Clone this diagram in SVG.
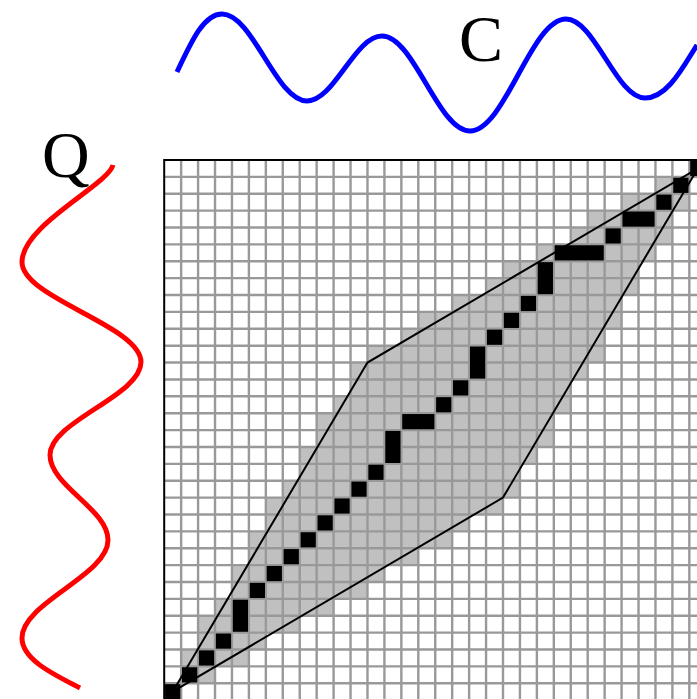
<svg xmlns="http://www.w3.org/2000/svg" width="697" height="699" viewBox="0 0 697 699">
<style>
.lbl{font-family:"Liberation Serif","Times New Roman",serif;font-size:66px;fill:#000}
.wave{fill:none;stroke-width:5;stroke-linecap:butt;stroke-linejoin:round}
.shade{fill:#c0c0c0}
.grid{fill:none;stroke:#999;stroke-width:2.4}
.blk{fill:#000}
.poly{fill:none;stroke:#000;stroke-width:2;stroke-linejoin:miter}
</style>
<rect width="697" height="699" fill="#fff"/>
<g id="seriesC">
<path class="wave" stroke="#0000ff" d="M177,72 C192,40 204,14 222,14 C252.9,14 276.1,101 307,101 C334.3,101 354.7,36 382,36 C414,36 438,131 470,131 C504.9,131 531.1,19 566,19 C594.7,19 616.3,98 645,98 C668,98 684,65 697,45"/>
<text class="lbl" x="459" y="61">C</text>
</g>
<g id="seriesQ">
<path class="wave" stroke="#ff0000" d="M113,165 C108,185 22,225 22,262 C22,298.3 141,325.7 141,362 C141,395.8 50,421.2 50,455 C50,485.9 108,509.1 108,540 C108,575.6 22,602.4 22,638 C22,660 55,675 80,688"/>
<text class="lbl" x="42" y="177">Q</text>
</g>
<g id="matrix" transform="translate(164.2,160) scale(16.94,16.88)">
<g id="band" class="shade">
<rect x="0" y="31" width="1" height="1"/>
<rect x="1" y="30" width="2" height="1"/>
<rect x="1" y="29" width="4" height="1"/>
<rect x="2" y="28" width="4" height="1"/>
<rect x="2" y="27" width="6" height="1"/>
<rect x="3" y="26" width="7" height="1"/>
<rect x="4" y="25" width="8" height="1"/>
<rect x="4" y="24" width="9" height="1"/>
<rect x="5" y="23" width="10" height="1"/>
<rect x="5" y="22" width="12" height="1"/>
<rect x="6" y="21" width="12" height="1"/>
<rect x="6" y="20" width="14" height="1"/>
<rect x="7" y="19" width="14" height="1"/>
<rect x="8" y="18" width="13" height="1"/>
<rect x="8" y="17" width="14" height="1"/>
<rect x="9" y="16" width="14" height="1"/>
<rect x="9" y="15" width="14" height="1"/>
<rect x="10" y="14" width="14" height="1"/>
<rect x="11" y="13" width="13" height="1"/>
<rect x="11" y="12" width="14" height="1"/>
<rect x="12" y="11" width="14" height="1"/>
<rect x="14" y="10" width="12" height="1"/>
<rect x="15" y="9" width="12" height="1"/>
<rect x="17" y="8" width="10" height="1"/>
<rect x="19" y="7" width="9" height="1"/>
<rect x="20" y="6" width="8" height="1"/>
<rect x="22" y="5" width="7" height="1"/>
<rect x="24" y="4" width="6" height="1"/>
<rect x="25" y="3" width="5" height="1"/>
<rect x="27" y="2" width="4" height="1"/>
<rect x="29" y="1" width="2" height="1"/>
<rect x="31" y="0" width="1" height="1"/>
</g>
<path id="gridlines" class="grid" vector-effect="non-scaling-stroke" d="M0,1H32M0,2H32M0,3H32M0,4H32M0,5H32M0,6H32M0,7H32M0,8H32M0,9H32M0,10H32M0,11H32M0,12H32M0,13H32M0,14H32M0,15H32M0,16H32M0,17H32M0,18H32M0,19H32M0,20H32M0,21H32M0,22H32M0,23H32M0,24H32M0,25H32M0,26H32M0,27H32M0,28H32M0,29H32M0,30H32M0,31H32M1,0V32M2,0V32M3,0V32M4,0V32M5,0V32M6,0V32M7,0V32M8,0V32M9,0V32M10,0V32M11,0V32M12,0V32M13,0V32M14,0V32M15,0V32M16,0V32M17,0V32M18,0V32M19,0V32M20,0V32M21,0V32M22,0V32M23,0V32M24,0V32M25,0V32M26,0V32M27,0V32M28,0V32M29,0V32M30,0V32M31,0V32"/>
<path id="border" d="M0,32V0H32" fill="none" stroke="#000" stroke-width="2" vector-effect="non-scaling-stroke"/>
<g id="path" class="blk">
<rect x="0.05" y="31.05" width="0.9" height="0.9"/>
<rect x="1.05" y="30.05" width="0.9" height="0.9"/>
<rect x="2.05" y="29.05" width="0.9" height="0.9"/>
<rect x="3.05" y="28.05" width="0.9" height="0.9"/>
<rect x="4.05" y="26.05" width="0.9" height="1.9"/>
<rect x="5.05" y="25.05" width="0.9" height="0.9"/>
<rect x="6.05" y="24.05" width="0.9" height="0.9"/>
<rect x="7.05" y="23.05" width="0.9" height="0.9"/>
<rect x="8.05" y="22.05" width="0.9" height="0.9"/>
<rect x="9.05" y="21.05" width="0.9" height="0.9"/>
<rect x="10.05" y="20.05" width="0.9" height="0.9"/>
<rect x="11.05" y="19.05" width="0.9" height="0.9"/>
<rect x="12.05" y="18.05" width="0.9" height="0.9"/>
<rect x="13.05" y="16.05" width="0.9" height="1.9"/>
<rect x="14.05" y="15.05" width="1.9" height="0.9"/>
<rect x="16.05" y="14.05" width="0.9" height="0.9"/>
<rect x="17.05" y="13.05" width="0.9" height="0.9"/>
<rect x="18.05" y="11.05" width="0.9" height="1.9"/>
<rect x="19.05" y="10.05" width="0.9" height="0.9"/>
<rect x="20.05" y="9.05" width="0.9" height="0.9"/>
<rect x="21.05" y="8.05" width="0.9" height="0.9"/>
<rect x="22.05" y="6.05" width="0.9" height="1.9"/>
<rect x="23.05" y="5.05" width="2.9" height="0.9"/>
<rect x="26.05" y="4.05" width="0.9" height="0.9"/>
<rect x="27.05" y="3.05" width="1.9" height="0.9"/>
<rect x="29.05" y="2.05" width="0.9" height="0.9"/>
<rect x="30.05" y="1.05" width="0.9" height="0.9"/>
<rect x="31.05" y="0.05" width="0.9" height="0.9"/>
</g>
<path id="window" class="poly" vector-effect="non-scaling-stroke" d="M0.5,31.5 L12,12 L31.5,0.5 L20,20 Z"/>
</g>
</svg>
